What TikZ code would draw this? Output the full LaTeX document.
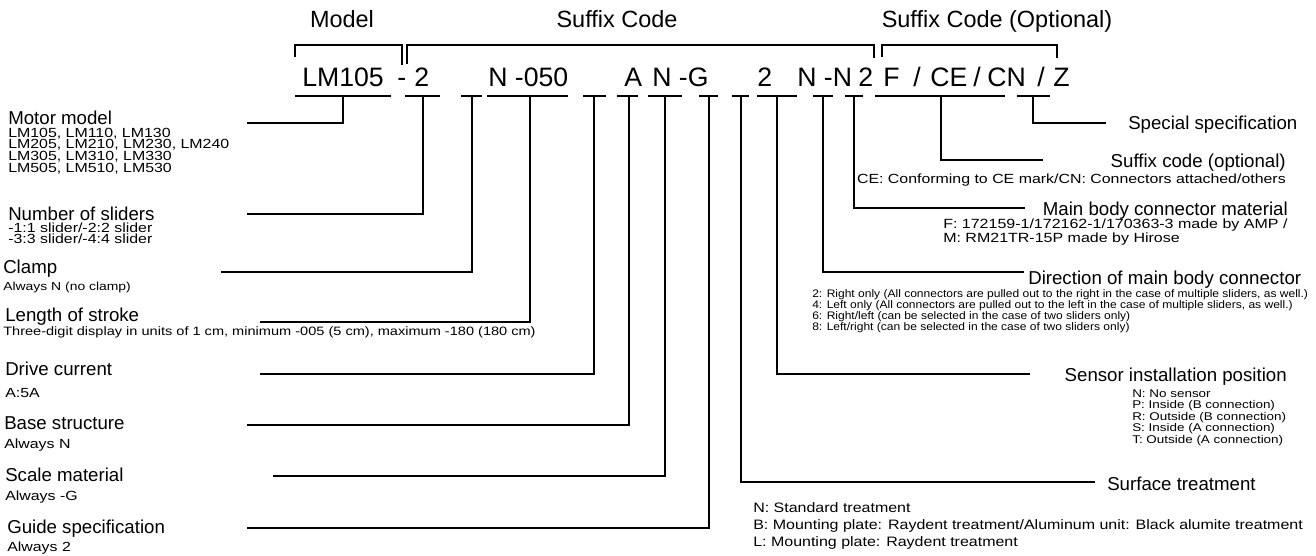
\documentclass[tikz,border=0pt]{standalone}
\usepackage{fontspec}
\setmainfont{Liberation Sans}
\newcommand{\hstr}[2]{\scalebox{#1}[1]{#2}}
\begin{document}
\begin{tikzpicture}[x=0.75pt,y=-0.75pt,
  ln/.style={line width=1.1pt},
  hdr/.style={inner sep=0,anchor=base,font=\fontsize{17.6}{20}\selectfont},
  code/.style={inner sep=0,anchor=base west,font=\fontsize{20}{24}\selectfont},
  ttl/.style={inner sep=0,anchor=base west,font=\fontsize{14}{16}\selectfont},
  ttlr/.style={inner sep=0,anchor=base east,font=\fontsize{14}{16}\selectfont},
  lsub/.style={inner sep=0,anchor=base west,font=\fontsize{9.94}{11}\selectfont},
  csub/.style={inner sep=0,anchor=base west,font=\fontsize{8.7}{10}\selectfont},
  ssub/.style={inner sep=0,anchor=base west,font=\fontsize{9.1}{10}\selectfont},
  rsub/.style={inner sep=0,anchor=base west,font=\fontsize{10}{11}\selectfont},
  dsub/.style={inner sep=0,anchor=base west,font=\fontsize{8.2}{9}\selectfont},
  nsub/.style={inner sep=0,anchor=base west,font=\fontsize{8.4}{9}\selectfont},
  tsub/.style={inner sep=0,anchor=base west,font=\fontsize{10.25}{11}\selectfont}]
\useasboundingbox (0,0) rectangle (1316,556);

% headers
\node[hdr] (hmodel) at (342,28) {Model};
\node[hdr] (hsuffix) at (617,28) {Suffix Code};
\node[hdr] (hopt) at (997,28) {Suffix Code (Optional)};

% brackets
\draw[ln] (295,57) -- (295,45) -- (402,45) -- (402,65);
\draw[ln] (407,64) -- (407,45) -- (874,45) -- (874,58);
\draw[ln] (882,57) -- (882,45) -- (1057,45) -- (1057,58);

% code line
\node[code] (c1) at (302,87) {LM105};
\node[code] (c2) at (397,87) {-};
\node[code] (c3) at (414,87) {2};
\node[code] (c4) at (488,87) {N -050};
\node[code] (c5) at (624,87) {A};
\node[code] (c6) at (652,87) {N -G};
\node[code] (c7) at (757,87) {2};
\node[code] (c8) at (797,87) {N -N};
\node[code] (c9) at (858,87) {2};
\node[code] (c10) at (883,87) {F};
\node[code] (c11) at (913,87) {/};
\node[code] (c12) at (930,87) {CE};
\node[code] (c13) at (973,87) {/};
\node[code] (c14) at (987,87) {CN};
\node[code] (c15) at (1037,87) {/};
\node[code] (c16) at (1053,87) {Z};

% underlines
\foreach \a/\b in {295/391,405/440,461/482,487/568,583/606,617/638,648/682,699/718,732/749,757/797,813/833,845/863,875/1005,1017/1050}
  \draw[ln] (\a,96) -- (\b,96);

% stems and ends
\foreach \n/\sx/\ex/\ey in {1/343/247/123,2/423/247/214,3/472/221/272,4/530/260/322,5/594/260/374,6/629/247/425,7/665/273/476,8/709/247/528,9/741/1095/482,10/777/1030/374,11/823/1024/272,12/854/1025/208,13/941/1043/160,14/1033/1106/123}
{
  \coordinate (s\n) at (\sx,96);
  \coordinate (e\n) at (\ex,\ey);
  \draw[ln] (s\n) |- (e\n);
}

% left labels
\node[ttl] (t1) at (8,125) {Motor model};
\node[lsub] (t1a) at (8,137.5) {\hstr{1.2}{LM105, LM110, LM130}};
\node[lsub] (t1b) at (8,149) {\hstr{1.2}{LM205, LM210, LM230, LM240}};
\node[lsub] (t1c) at (8,160.5) {\hstr{1.2}{LM305, LM310, LM330}};
\node[lsub] (t1d) at (8,172) {\hstr{1.2}{LM505, LM510, LM530}};

\node[ttl] (t2) at (8,220) {Number of sliders};
\node[lsub] (t2a) at (8,232) {\hstr{1.2}{-1:1 slider/-2:2 slider}};
\node[lsub] (t2b) at (8,243.5) {\hstr{1.2}{-3:3 slider/-4:4 slider}};

\node[ttl] (t3) at (3,273) {Clamp};
\node[csub] (t3a) at (3,290) {\hstr{1.2}{Always N (no clamp)}};

\node[ttl] (t4) at (5,321) {Length of stroke};
\node[ssub] (t4a) at (3,335) {\hstr{1.2}{Three-digit display in units of 1 cm, minimum -005 (5 cm), maximum -180 (180 cm)}};

\node[ttl] (t5) at (5,375) {Drive current};
\node[lsub] (t5a) at (5,397) {\hstr{1.2}{A:5A}};

\node[ttl] (t6) at (4,429) {Base structure};
\node[lsub] (t6a) at (4,448) {\hstr{1.2}{Always N}};

\node[ttl] (t7) at (5,481) {Scale material};
\node[lsub] (t7a) at (5,500) {\hstr{1.2}{Always -G}};

\node[ttl] (t8) at (7,533) {Guide specification};
\node[lsub] (t8a) at (7,551) {\hstr{1.2}{Always 2}};

% right labels
\node[ttl] (r14) at (1128,130) {Special specification};

\node[ttlr] (r13) at (1286,167) {Suffix code (optional)};
\node[lsub,anchor=base east] (r13a) at (1286,183) {\hstr{1.2}{CE: Conforming to CE mark/CN: Connectors attached/others}};

\node[ttlr] (r12) at (1288,215) {Main body connector material};
\node[rsub] (r12a) at (943,228) {\hstr{1.2}{F: 172159-1/172162-1/170363-3 made by AMP /}};
\node[rsub] (r12b) at (943,242) {\hstr{1.2}{M: RM21TR-15P made by Hirose}};

\node[ttl] (r11) at (1028,284) {Direction of main body connector};
\node[dsub] (r11a) at (812,297) {\hstr{1.1}{2: Right only (All connectors are pulled out to the right in the case of multiple sliders, as well.)}};
\node[dsub] (r11b) at (812,308) {\hstr{1.1}{4: Left only (All connectors are pulled out to the left in the case of multiple sliders, as well.)}};
\node[dsub] (r11c) at (812,319) {\hstr{1.1}{6: Right/left (can be selected in the case of two sliders only)}};
\node[dsub] (r11d) at (812,330) {\hstr{1.1}{8: Left/right (can be selected in the case of two sliders only)}};

\node[ttlr] (r10) at (1287,381) {Sensor installation position};
\node[nsub] (r10a) at (1132,397) {\hstr{1.2}{N: No sensor}};
\node[nsub] (r10b) at (1132,408.5) {\hstr{1.2}{P: Inside (B connection)}};
\node[nsub] (r10c) at (1132,420) {\hstr{1.2}{R: Outside (B connection)}};
\node[nsub] (r10d) at (1132,431.5) {\hstr{1.2}{S: Inside (A connection)}};
\node[nsub] (r10e) at (1132,443) {\hstr{1.2}{T: Outside (A connection)}};

\node[ttl] (r9) at (1107,490) {Surface treatment};
\node[tsub] (r9a) at (753,512) {\hstr{1.17}{N: Standard treatment}};
\node[tsub] (r9b) at (753,529) {\hstr{1.17}{B: Mounting plate: Raydent treatment/Aluminum unit: Black alumite treatment}};
\node[tsub] (r9c) at (753,546) {\hstr{1.17}{L: Mounting plate: Raydent treatment}};
\end{tikzpicture}
\end{document}
